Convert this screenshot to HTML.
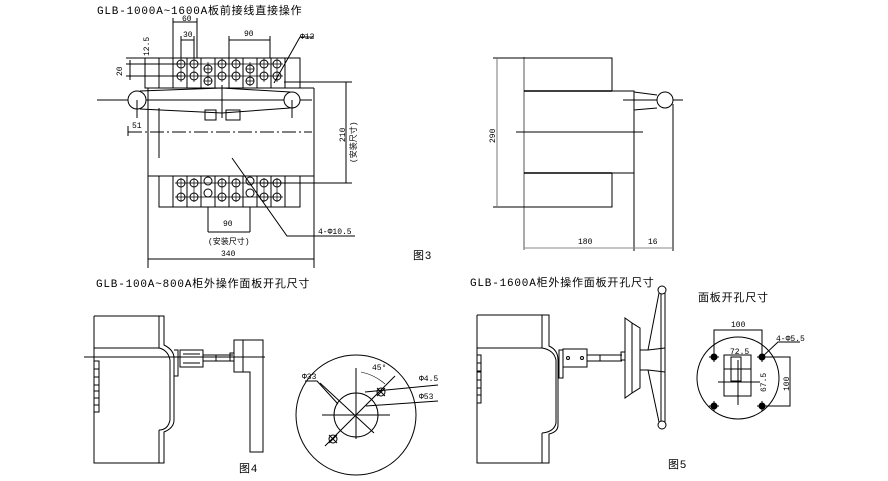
<!DOCTYPE html>
<html><head><meta charset="utf-8"><style>
html,body{margin:0;padding:0;background:#fff;}
svg{display:block;}
text{font-family:"Liberation Mono","Noto Sans CJK SC",monospace;fill:#000;}
.t{font-size:11px;letter-spacing:0.8px;}
.s{font-size:8px;}
</style></head><body>
<svg width="888" height="481" viewBox="0 0 888 481" xmlns="http://www.w3.org/2000/svg" fill="none" stroke="#000" stroke-width="1">
<text class="t" x="97" y="14" stroke="none">GLB-1000A~1600A板前接线直接操作</text>
<rect x="145" y="58" width="155" height="30"/>
<path d="M159 58V88M173 58V88M187 58V88M201 58V88M215 58V88M229 58V88M243 58V88M257 58V88M271 58V88M285 58V88"/>
<g>
<circle cx="181" cy="64" r="4"/><circle cx="181" cy="76" r="4"/>
<circle cx="194" cy="64" r="4"/><circle cx="194" cy="76" r="4"/>
<circle cx="208" cy="69" r="4"/><circle cx="208" cy="81" r="4"/>
<circle cx="222" cy="64" r="4"/><circle cx="222" cy="76" r="4"/>
<circle cx="236" cy="64" r="4"/><circle cx="236" cy="76" r="4"/>
<circle cx="250" cy="69" r="4"/><circle cx="250" cy="81" r="4"/>
<circle cx="264" cy="64" r="4"/><circle cx="264" cy="76" r="4"/>
<circle cx="277" cy="64" r="4"/><circle cx="277" cy="76" r="4"/>
</g>
<path d="M175 64H283M175 76H283M204 69H212M204 81H212M246 69H254M246 81H254M181 58V82M194 58V82M208 62V86M222 58V82M236 58V82M250 62V86M264 58V82M277 58V82" stroke-width="0.7"/>
<line x1="148" y1="88" x2="314" y2="88"/>
<line x1="148" y1="88" x2="148" y2="268"/>
<line x1="314" y1="88" x2="314" y2="268"/>
<line x1="148" y1="176" x2="314" y2="176"/>
<line x1="159" y1="108" x2="159" y2="158"/>
<line x1="97" y1="100" x2="312" y2="100"/>
<circle cx="137" cy="100" r="9" fill="#fff"/>
<circle cx="292" cy="100" r="8" fill="#fff"/>
<path d="M140 91L222 88L290 92M140 109L222 113L290 108"/>
<line x1="222" y1="85" x2="222" y2="118"/>
<rect x="205" y="110" width="11" height="10"/><rect x="226" y="110" width="14" height="10"/>
<line x1="137" y1="100" x2="137" y2="118"/>
<line x1="292" y1="100" x2="292" y2="118"/>
<line x1="128" y1="132" x2="312" y2="132" stroke-dasharray="14,3,2,3"/>
<line x1="128" y1="126" x2="128" y2="136"/>
<text class="s" x="132" y="128" stroke="none">51</text>
<rect x="159" y="176" width="141" height="31"/>
<path d="M173 176V207M187 176V207M201 176V207M215 176V207M229 176V207M243 176V207M257 176V207M271 176V207M285 176V207"/>
<g>
<circle cx="181" cy="183" r="4"/><circle cx="181" cy="197" r="4"/>
<circle cx="194" cy="183" r="4"/><circle cx="194" cy="197" r="4"/>
<circle cx="208" cy="181" r="4"/><circle cx="208" cy="193" r="4"/>
<circle cx="222" cy="183" r="4"/><circle cx="222" cy="197" r="4"/>
<circle cx="236" cy="183" r="4"/><circle cx="236" cy="197" r="4"/>
<circle cx="250" cy="181" r="4"/><circle cx="250" cy="193" r="4"/>
<circle cx="264" cy="183" r="4"/><circle cx="264" cy="197" r="4"/>
<circle cx="277" cy="183" r="4"/><circle cx="277" cy="197" r="4"/>
</g>
<path d="M175 183H283M175 197H283M181 178V202M194 178V202M222 178V202M236 178V202M264 178V202M277 178V202" stroke-width="0.7"/>
<path d="M173 18V58M197 18V58M173 22H197M181 36V58M194 36V58M181 40H194M229 36V58M270 36V58M229 40H270"/>
<text class="s" x="182" y="21" stroke="none">60</text>
<text class="s" x="183" y="37" stroke="none">30</text>
<text class="s" x="244" y="36" stroke="none">90</text>
<text class="s" x="0" y="0" stroke="none" transform="translate(149,56) rotate(-90)">12.5</text>
<text class="s" x="0" y="0" stroke="none" transform="translate(122,76) rotate(-90)">20</text>
<path d="M126 64H181M126 76H181M126 58H148M130 60V80"/>
<path d="M274 83L300 37H314"/>
<text class="s" x="300" y="39" stroke="none">Φ12</text>
<path d="M284 82H352M260 183H352M346 82V183"/>
<text class="s" x="0" y="0" stroke="none" transform="translate(345,142) rotate(-90)">210</text>
<text class="s" x="0" y="0" stroke="none" transform="translate(356,163) rotate(-90)">(安装尺寸)</text>
<path d="M232 158L287 236H355"/>
<text class="s" x="318" y="234" stroke="none">4-Φ10.5</text>
<path d="M208 207V232M250 207V232M208 232H250"/>
<text class="s" x="223" y="226" stroke="none">90</text>
<text class="s" x="208" y="244" stroke="none">(安装尺寸)</text>
<line x1="148" y1="259" x2="314" y2="259"/>
<text class="s" x="221" y="256" stroke="none">340</text>
<line x1="524" y1="57" x2="524" y2="250" stroke="#555"/>
<path d="M493 58H612V91M612 91H634V173M524 91H612" />
<line x1="524" y1="91" x2="612" y2="91" stroke-width="1.5"/>
<line x1="524" y1="173" x2="612" y2="173" stroke-width="1.5"/>
<path d="M612 173H634M612 173V207H493"/>
<line x1="516" y1="132" x2="643" y2="132"/>
<line x1="497" y1="58" x2="497" y2="207" stroke="#777"/>
<text class="s" x="0" y="0" stroke="none" transform="translate(495,143) rotate(-90)">290</text>
<path d="M634 92L657 95M634 110L657 108M623 100H683"/>
<circle cx="665" cy="100" r="8" fill="#fff"/>
<line x1="673" y1="104" x2="673" y2="251"/>
<line x1="634" y1="173" x2="634" y2="251"/>
<line x1="524" y1="248" x2="673" y2="248" stroke="#888"/>
<text class="s" x="578" y="244" stroke="none">180</text>
<text class="s" x="648" y="244" stroke="none">16</text>
<text class="t" x="413" y="259" stroke="none">图3</text>
<text class="t" x="96" y="287" stroke="none">GLB-100A~800A柜外操作面板开孔尺寸</text>
<path d="M94 316H159V348M94 316V463H159V430M94 348H159Q168 350 170 360V420Q168 430 159 430"/>
<path d="M159 316H164V345Q174 350 174 358V420Q174 428 164 432V463H159"/>
<path d="M174 350H178V376H174" />
<rect x="94" y="361" width="5" height="8"/><rect x="94" y="369" width="5" height="8"/><rect x="94" y="377" width="5" height="8"/><rect x="94" y="385" width="5" height="6"/><rect x="94" y="391" width="5" height="7"/><rect x="94" y="398" width="5" height="7"/><rect x="94" y="405" width="5" height="7"/>
<rect x="180" y="350" width="23" height="17"/>
<path d="M183 354H200M183 363H200M203 355H233M203 361H233M216 355V361"/>
<rect x="230" y="353" width="4" height="8"/>
<rect x="234" y="340" width="9" height="32"/>
<path d="M243 340H263V452H250V372H243"/>
<line x1="84" y1="357" x2="265" y2="357"/>
<text class="t" x="239" y="472" stroke="none">图4</text>
<circle cx="356" cy="415" r="60"/>
<circle cx="356" cy="415" r="22"/>
<path d="M322 415H390M356 368V439M325 446L395 376M320 383L374 433"/>
<path d="M305 381H317L338 404"/>
<text class="s" x="302" y="379" stroke="none">Φ33</text>
<circle cx="381" cy="392" r="4"/><path d="M377 388L385 396M385 388L377 396"/>
<circle cx="333" cy="439" r="4"/><path d="M329 435L337 443M337 435L329 443"/>
<path d="M365 392L438 385M366 406L438 401"/>
<text class="s" x="419" y="381" stroke="none">Φ4.5</text>
<text class="s" x="419" y="399" stroke="none">Φ53</text>
<path d="M361 372Q375 375 385 384" stroke-width="0.6"/>
<text class="s" x="372" y="370" stroke="none">45°</text>
<text class="t" x="470" y="286" stroke="none">GLB-1600A柜外操作面板开孔尺寸</text>
<path d="M477 315H542V348M477 315V463H542V433M477 348H542Q554 350 556 360V423Q554 432 542 433"/>
<path d="M542 315H549V346Q558 350 558 360V425Q558 432 549 434V463H542"/>
<rect x="559" y="350" width="4" height="28"/>
<rect x="477" y="355" width="4" height="8"/><rect x="477" y="363" width="4" height="8"/><rect x="477" y="372" width="4" height="8"/><rect x="477" y="380" width="4" height="8"/><rect x="477" y="388" width="4" height="7"/><rect x="477" y="395" width="4" height="8"/>
<rect x="563" y="349" width="24" height="18"/>
<circle cx="568" cy="358" r="1.5"/><circle cx="582" cy="358" r="1.5"/>
<path d="M587 355H622M587 361H622M600 355V361"/>
<rect x="621" y="352" width="4" height="8"/>
<path d="M625 318L632 323V393L625 398Z"/>
<path d="M632 323L640 328V388L632 393"/>
<path d="M640 350H648L659 293M640 370H648L659 422M648 350L665 348M648 370L665 372"/>
<path d="M661 292V423M665 293V422"/>
<circle cx="662" cy="290" r="4" fill="#fff"/>
<circle cx="662" cy="425" r="4" fill="#fff"/>
<text class="t" x="698" y="301" stroke="none">面板开孔尺寸</text>
<circle cx="738" cy="378" r="41"/>
<rect x="724" y="355" width="27" height="41"/>
<rect x="731" y="357" width="10" height="24"/>
<path d="M724 369H751M718 382H760M738 360V405"/>
<path d="M714 357V330H762V357M762 357H790V406H762"/>
<text class="s" x="731" y="327" stroke="none">100</text>
<text class="s" x="730" y="354" stroke="none">72.5</text>
<text class="s" x="0" y="0" stroke="none" transform="translate(766,392) rotate(-90)">67.5</text>
<text class="s" x="0" y="0" stroke="none" transform="translate(789,391) rotate(-90)">100</text>
<path d="M762 357L778 342H800"/>
<text class="s" x="776" y="341" stroke="none">4-Φ5.5</text>
<g><circle cx="714" cy="357" r="3" fill="#000"/><circle cx="762" cy="357" r="3" fill="#000"/><circle cx="714" cy="406" r="3" fill="#000"/><circle cx="762" cy="406" r="3" fill="#000"/>
<path d="M709 357H719M714 352V362M757 357H767M762 352V362M709 406H719M714 401V411M757 406H767M762 401V411"/></g>
<text class="t" x="668" y="468" stroke="none">图5</text>
</svg>
</body></html>
